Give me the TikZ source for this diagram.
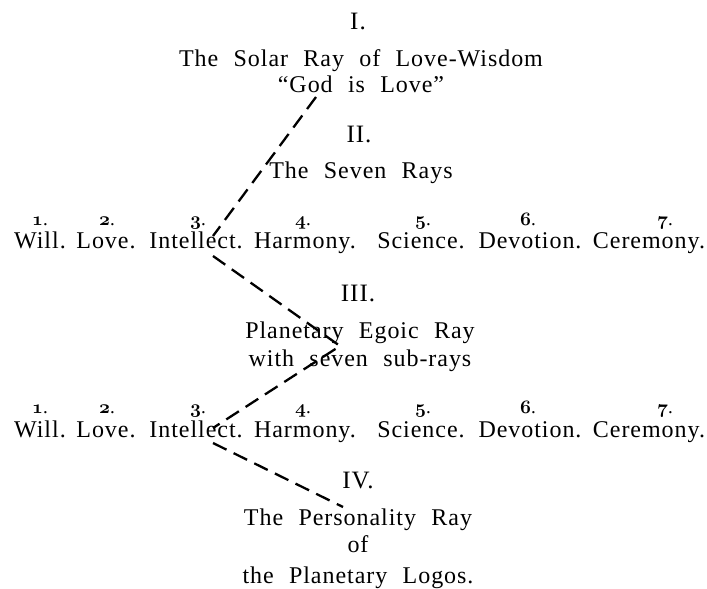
\RequirePackage{fix-cm}
\documentclass[tikz,border=0pt]{standalone}
\usepackage{fontspec}
\setmainfont{Liberation Serif}[LetterSpace=4,WordSpace=2.2]
\newcommand{\osn}[1]{{\usefont{OML}{cmm}{b}{it}#1}}
\begin{document}
\begin{tikzpicture}[x=1pt,y=-1pt,
  txt/.style={anchor=base,inner sep=0pt,font=\fontsize{24}{28}\selectfont},
  hd/.style={anchor=base,inner sep=0pt,font=\fontsize{25}{28}\selectfont},
  num/.style={anchor=base,inner sep=0pt,font=\fontsize{19}{22}\selectfont},
  ray/.style={line width=2.3pt,dash pattern=on 15pt off 8pt}]
\useasboundingbox (0,0) rectangle (707,589);
% headings
\node[hd] (h1) at (358,29) {I.};
\node[txt] (t1a) at (361,66) {The Solar Ray of Love-Wisdom};
\node[txt] (t1b) at (361,92) {``God is Love''};
\node[hd] (h2) at (359,142) {II.};
\node[txt] (t2) at (361,178) {The Seven Rays};
\node[hd] (h3) at (358,301) {III.};
\node[txt] (t3a) at (360,338) {Planetary Egoic Ray};
\node[txt] (t3b) at (360,366) {with seven sub-rays};
\node[hd] (h4) at (358,488) {IV.};
\node[txt] (t4a) at (358,525) {The Personality Ray};
\node[txt] (t4b) at (358,552) {of};
\node[txt] (t4c) at (358,583) {the Planetary Logos.};
% row 1
\node[num] (n11) at (40,225) {\osn{1}.};
\node[num] (n12) at (107,225) {\osn{2}.};
\node[num] (n13) at (198,225) {\osn{3}.};
\node[num] (n14) at (303,225) {\osn{4}.};
\node[num] (n15) at (423,225) {\osn{5}.};
\node[num] (n16) at (528,225) {\osn{6}.};
\node[num] (n17) at (665,225) {\osn{7}.};
\node[txt] (r11) at (40,248) {Will.};
\node[txt] (r12) at (106,248) {Love.};
\node[txt] (r13) at (196,248) {Intellect.};
\node[txt] (r14) at (305,248) {Harmony.};
\node[txt] (r15) at (421,248) {Science.};
\node[txt] (r16) at (530,248) {Devotion.};
\node[txt] (r17) at (649,248) {Ceremony.};
% row 2
\node[num] (n21) at (40,413) {\osn{1}.};
\node[num] (n22) at (107,413) {\osn{2}.};
\node[num] (n23) at (198,413) {\osn{3}.};
\node[num] (n24) at (303,413) {\osn{4}.};
\node[num] (n25) at (423,413) {\osn{5}.};
\node[num] (n26) at (528,413) {\osn{6}.};
\node[num] (n27) at (665,413) {\osn{7}.};
\node[txt] (r21) at (40,437) {Will.};
\node[txt] (r22) at (106,437) {Love.};
\node[txt] (r23) at (196,437) {Intellect.};
\node[txt] (r24) at (305,437) {Harmony.};
\node[txt] (r25) at (421,437) {Science.};
\node[txt] (r26) at (530,437) {Devotion.};
\node[txt] (r27) at (649,437) {Ceremony.};
% ray path points
\coordinate (p0) at (316,97);
\coordinate (p1) at (213,236);
\coordinate (p2) at (213,256);
\coordinate (p3) at (340,346);
\coordinate (p4) at (213,428);
\coordinate (p5) at (213,443);
\coordinate (p6) at (343,507);
\draw[ray] (p0) -- (p1);
\draw[ray] (p2) -- (p3) -- (p4);
\draw[ray] (p5) -- (p6);
\end{tikzpicture}
\end{document}
